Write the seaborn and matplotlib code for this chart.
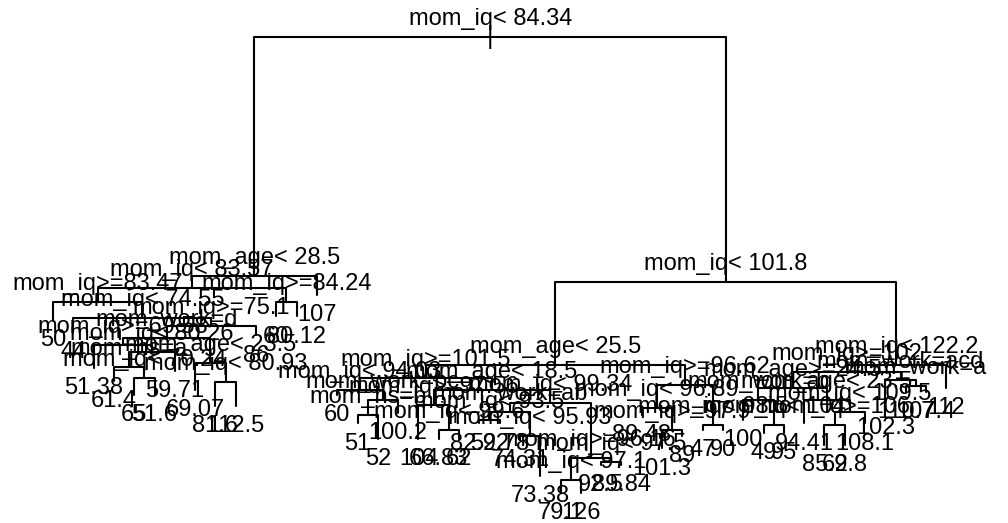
import matplotlib
matplotlib.use("Agg")
import matplotlib.pyplot as plt
import pandas as pd
import seaborn as sns

# --- tree (rpart style, preorder: S = split, L = leaf) ---
node_shape = ("SSSSLSLSSSLSSLSLLLSLSLLLSLLL"
              "SSSSLSSLLLSSLSLLSSSLLSLLSSLLSLLSSLSLLSLL"
              "SSSSLSLLSLSSLLLSLSLLL")

split_text = [
    "mom_iq< 84.34", "mom_age< 28.5", "mom_iq< 83.57", "mom_iq>=83.47",
    "mom_iq< 74.55", "mom_iq>=75.1", "mom_work=d", "mom_iq>=69.58",
    "mom_iq< 80.26", "mom_hs=a", "mom_iq< 70.24", "mom_age< 23.5",
    "mom_iq< 80.93", "mom_iq>=84.24",
    "mom_iq< 101.8", "mom_age< 25.5", "mom_iq>=101.5", "mom_iq< 94.03",
    "mom_work=bc", "mom_hs=b", "mom_age< 18.5", "mom_iq>=97.56",
    "mom_iq< 99.6", "mom_iq< 99.34", "mom_work=ab", "mom_iq< 93.5",
    "mom_iq< 95.93", "mom_iq>=96.16", "mom_iq< 97.1", "mom_iq< 97.5",
    "mom_iq>=96.62", "mom_iq< 96.89", "mom_iq>=97.9", "mom_iq< 98.5",
    "mom_iq< 122.2", "mom_iq>=102", "mom_age>=24.5", "mom_work=b",
    "mom_iq< 104", "mom_age< 23.5", "mom_iq< 109.5", "mom_iq>=106",
    "mom_work=acd", "mom_work=a",
]
split_y = [
    1.000, 0.484, 0.458, 0.428, 0.393, 0.376, 0.350, 0.335,
    0.320, 0.287, 0.263, 0.296, 0.255, 0.428,
    0.471, 0.292, 0.263, 0.238, 0.216, 0.184, 0.238, 0.205,
    0.151, 0.210, 0.190, 0.173, 0.138, 0.091, 0.043, 0.082,
    0.248, 0.199, 0.151, 0.162,
    0.292, 0.276, 0.242, 0.216, 0.162, 0.216, 0.190, 0.162,
    0.259, 0.246,
]

leaf_text = [
    "50", "44", "51.38", "61.4", "65", "51.6", "59.71", "69.07", "81.6",
    "112.5", "86", "60", "80.12", "107",
    "60", "51", "52", "100.2", "104", "66.83", "62", "82.92", "52.78",
    "74.31", "73.38", "79.1", "126", "92.5", "89.84", "89.48", "101.3",
    "89", "47", "90",
    "100", "49", "95", "94.41", "85.2", "69.8", "108.1", "102.3", "110.7",
    "107.4", "112",
]
leaf_y = [
    0.389, 0.363, 0.285, 0.257, 0.227, 0.227, 0.279, 0.238, 0.203,
    0.203, 0.356, 0.397, 0.397, 0.443,
    0.227, 0.166, 0.132, 0.188, 0.132, 0.132, 0.132, 0.166, 0.166,
    0.130, 0.052, 0.015, 0.015, 0.076, 0.076, 0.184, 0.112,
    0.138, 0.151, 0.151,
    0.173, 0.145, 0.145, 0.166, 0.119, 0.119, 0.166, 0.199, 0.233,
    0.233, 0.242,
]

# --- rebuild the tree: leaves at 1..n, splits midway between children ---
state = {"pos": 0, "leaf": 0, "split": 0}


def build():
    kind = node_shape[state["pos"]]
    state["pos"] += 1
    if kind == "L":
        i = state["leaf"]
        state["leaf"] += 1
        return {"x": i + 1, "y": leaf_y[i], "text": leaf_text[i], "kids": None}
    i = state["split"]
    state["split"] += 1
    left = build()
    right = build()
    return {"x": (left["x"] + right["x"]) / 2, "y": split_y[i],
            "text": split_text[i], "kids": (left, right)}


root = build()

rows, splits, leaves = [], [], []


def walk(node):
    if node["kids"] is None:
        leaves.append(node)
        return
    splits.append(node)
    left, right = node["kids"]
    seg = len(splits)
    for px, py in [(left["x"], left["y"]), (left["x"], node["y"]),
                   (right["x"], node["y"]), (right["x"], right["y"])]:
        rows.append({"seg": seg, "x": px, "y": py})
    walk(left)
    walk(right)


walk(root)
segs = pd.DataFrame(rows)

# --- plotting ---
sns.set_style("white")
plt.rcParams["font.family"] = ["Liberation Sans", "DejaVu Sans"]
FS = 17

fig = plt.figure(figsize=(10.08, 5.23), dpi=100)
ax = fig.add_axes([0, 0, 1, 1])

sns.lineplot(data=segs, x="x", y="y", units="seg", estimator=None,
             sort=False, color="black", linewidth=1.5, legend=False, ax=ax)

for n in splits:
    ax.annotate(n["text"], (n["x"], n["y"]), xytext=(0, 8.6),
                textcoords="offset points", ha="center", va="baseline",
                fontsize=FS, color="black")

for n in leaves:
    ax.annotate(n["text"], (n["x"], n["y"]), xytext=(0, -19.0),
                textcoords="offset points", ha="center", va="baseline",
                fontsize=FS, color="black")

# root marker
ax.text(root["x"], root["y"], "|", ha="center", va="center",
        fontsize=FS + 1, color="black")

ax.set_xlim(-1.611, 48.04)
ax.set_ylim(-0.0497, 1.0799)
ax.axis("off")

fig.savefig("out.png", dpi=100, facecolor="white")
